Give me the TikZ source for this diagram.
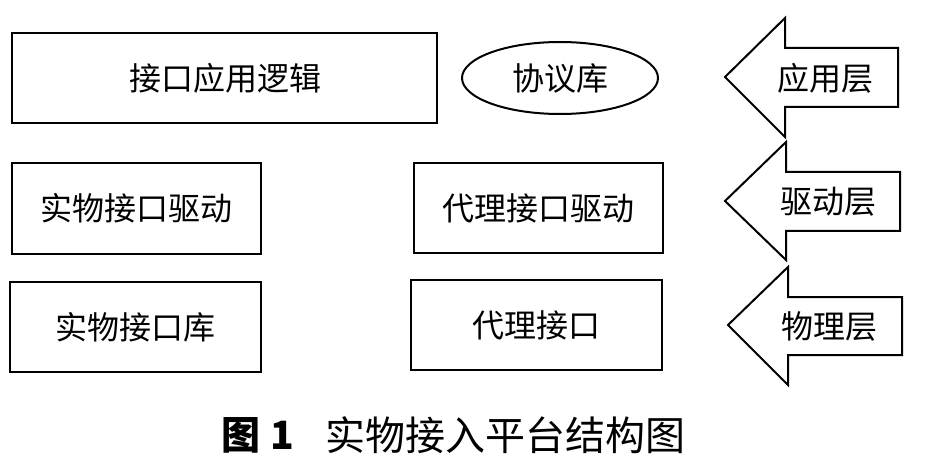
\documentclass[tikz,border=0pt]{standalone}
\usepackage{fontspec}
\newfontfamily\cjk{Noto Sans CJK SC}
\usetikzlibrary{shapes.geometric}
\begin{document}
\begin{tikzpicture}[x=1pt,y=-1pt,
  lbl/.style={font=\cjk\fontsize{32}{36}\selectfont},
  blk/.style={draw,line width=2pt},
  arr/.style={draw,line width=2pt,line join=miter}]
\useasboundingbox (0,0) rectangle (928,462);
% boxes
\draw[blk] (12,33) rectangle (437,123);
\node[lbl] (app) at (225,78) {接口应用逻辑};
\node[blk,ellipse,minimum width=196pt,minimum height=72pt,inner sep=0pt] (proto) at (560,78) {};
\node[lbl] at (proto.center) {协议库};
\draw[blk] (12,163) rectangle (261,254);
\node[lbl] (pdrv) at (136.5,208.5) {实物接口驱动};
\draw[blk] (414,163) rectangle (663,253);
\node[lbl] (adrv) at (538.5,208) {代理接口驱动};
\draw[blk] (10,282) rectangle (261,372);
\node[lbl] (plib) at (135.5,327) {实物接口库};
\draw[blk] (411,280) rectangle (662,370);
\node[lbl] (aif) at (536.5,325) {代理接口};
% arrows
\draw[arr] (725,77) -- (785,18) -- (785,48) -- (898,48) -- (898,107) -- (785,107) -- (785,137) -- cycle;
\node[lbl] (l1) at (825,78) {应用层};
\draw[arr] (725,201) -- (786,142) -- (786,172) -- (900,172) -- (900,231) -- (786,231) -- (786,260) -- cycle;
\node[lbl] (l2) at (828,202) {驱动层};
\draw[arr] (728,325) -- (788,267) -- (788,297) -- (902,297) -- (902,355) -- (788,355) -- (788,385) -- cycle;
\node[lbl] (l3) at (829,326) {物理层};
% caption
\node[font=\cjk\fontsize{39}{42}\selectfont\bfseries] (cap1) at (258,435) {图\hspace{10pt}1};
\node[font=\cjk\fontsize{40}{44}\selectfont] (cap2) at (505,435) {实物接入平台结构图};
\end{tikzpicture}
\end{document}
